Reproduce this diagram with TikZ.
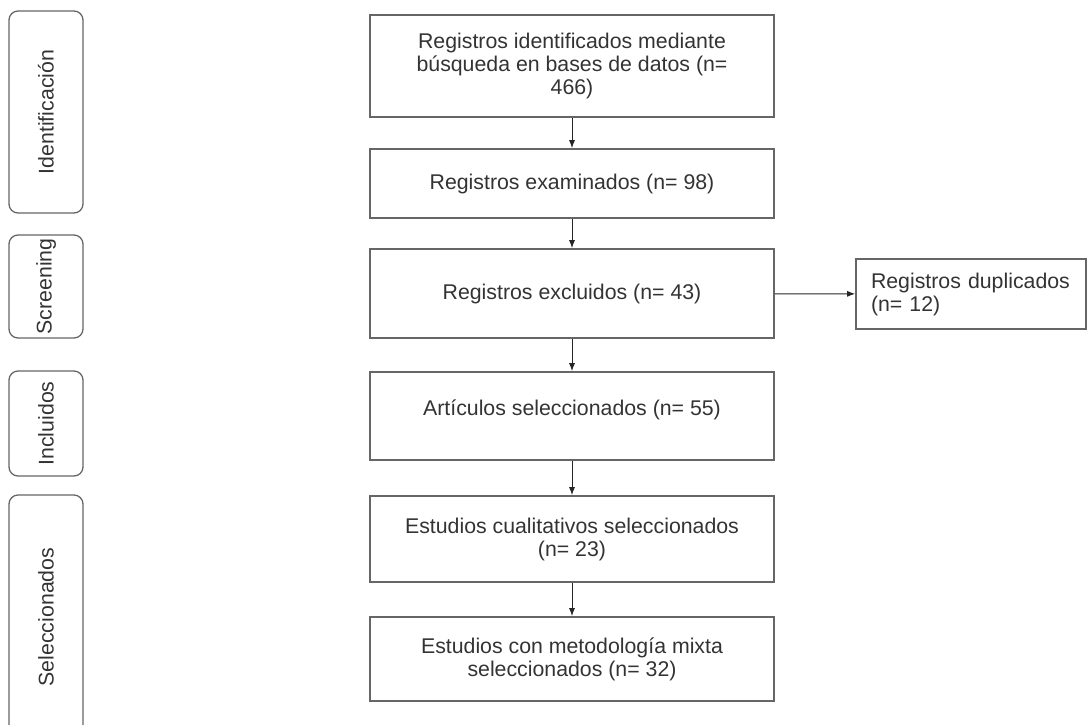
\documentclass[tikz,border=0pt]{standalone}
\usepackage{fontspec}
\setmainfont{Liberation Sans}
\usetikzlibrary{arrows.meta}

\begin{document}
\begin{tikzpicture}[x=1pt, y=-1pt,
		font=\fontsize{21.3}{23}\selectfont, text=black!80,
		caja/.style={draw=black!60, line width=1.6pt, minimum width=404pt, align=center},
		fase/.style={draw=black!60, line width=1.3pt, rounded corners=9pt,
			minimum height=74pt, rotate=90},
		flecha/.style={-{Latex[length=8pt, width=6pt]}, line width=1pt, black!85}]
		\useasboundingbox (0, 0) rectangle (1090, 724);
		\clip (0, 0) rectangle (1090, 724);
		\node [fase, minimum width=202pt] (ident) at (46, 112) {Identificación};
		\node [fase, minimum width=103pt] (screen) at (46, 286.5) {Screening};
		\node [fase, minimum width=105pt] (incl) at (46, 423.5) {Incluidos};
		\node [fase, minimum width=244pt] (selec) at (46, 617) {Seleccionados};
		\node [caja, minimum height=102pt] (busq) at (572, 66)
			{Registros identificados mediante\\búsqueda en bases de datos (n=\\466)};
		\node [caja, minimum height=69pt] (exam) at (572, 183.5)
			{Registros examinados (n= 98)};
		\node [caja, minimum height=89pt] (excl) at (572, 293.5)
			{Registros excluidos (n= 43)};
		\node [caja, minimum height=88pt, text depth=16pt] (art) at (572, 416)
			{Artículos seleccionados (n= 55)};
		\node [caja, minimum height=86pt] (cual) at (572, 539)
			{Estudios cualitativos seleccionados\\(n= 23)};
		\node [caja, minimum height=84pt] (mixta) at (572, 659)
			{Estudios con metodología mixta\\seleccionados (n= 32)};
		\node [draw=black!60, line width=1.6pt, minimum height=70pt, inner xsep=15pt,
			text width=200pt, align=left] (dup) at (971, 294)
			{Registros duplicados\\(n= 12)};
		\draw [flecha] (busq) -- (exam);
		\draw [flecha] (exam) -- (excl);
		\draw [flecha] (excl) -- (art);
		\draw [flecha] (art) -- (cual);
		\draw [flecha] (cual) -- (mixta);
		\draw [flecha] (excl) -- (dup);
	\end{tikzpicture}
\end{document}
